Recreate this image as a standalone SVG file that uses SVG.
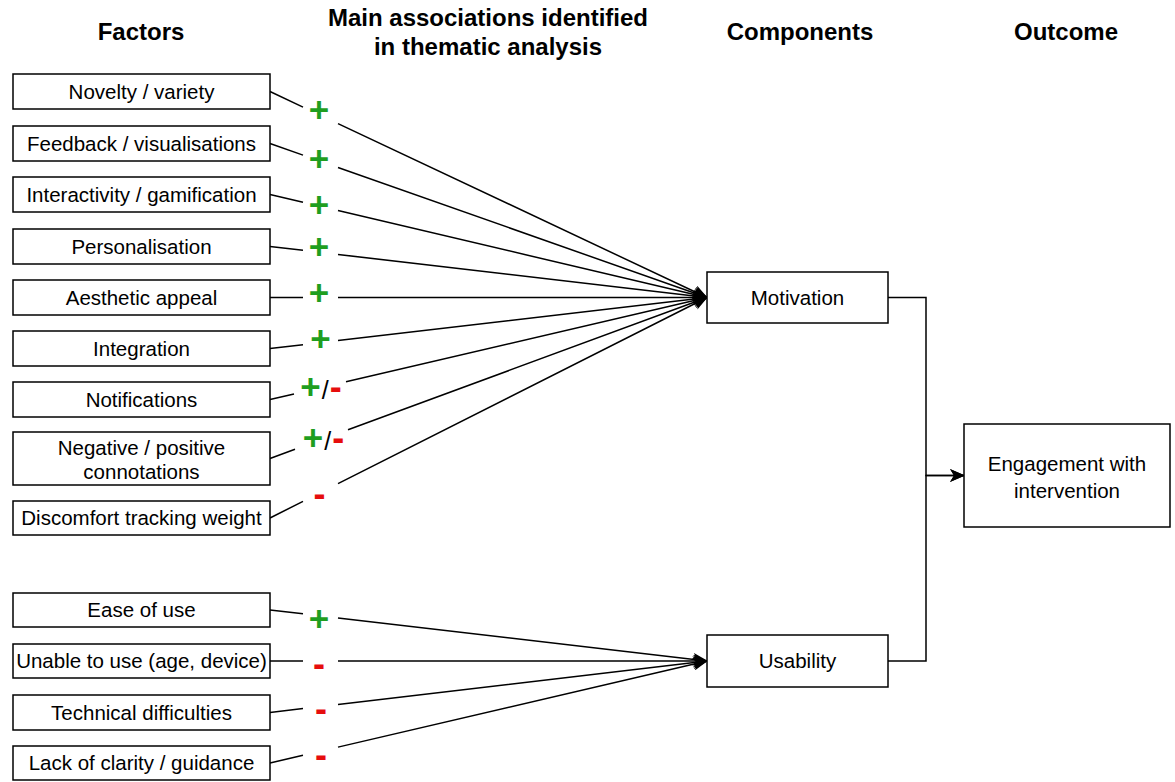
<svg xmlns="http://www.w3.org/2000/svg" width="1175" height="782" viewBox="0 0 1175 782">
<defs>
<style>
text{font-family:"Liberation Sans",Arial,sans-serif;fill:#000}
.h{font-size:24px;font-weight:bold;text-anchor:middle}
.box rect{fill:#fff;stroke:#000;stroke-width:1.5}
.box text{font-size:20.5px;text-anchor:middle}
.c path{fill:none;stroke:#000;stroke-width:1.5}
.s{text-anchor:middle;font-weight:bold}
.p{fill:#1f9e1f;font-size:35px;font-weight:bold}
.m{fill:#e60d0d;font-size:36px;font-weight:bold}
.sl{font-size:25px;font-weight:normal;fill:#000}
</style>
<marker id="arr" viewBox="0 0 15 13" markerWidth="15" markerHeight="13" refX="14" refY="6.5" orient="auto" markerUnits="userSpaceOnUse">
<path d="M0,0 L15,6.5 L0,13 L4,6.5 z" fill="#000"/>
</marker>
</defs>
<rect width="1175" height="782" fill="#fff"/>

<g id="headers">
<text class="h" x="141" y="40">Factors</text>
<text class="h" x="488" y="26">Main associations identified</text>
<text class="h" x="488" y="55">in thematic analysis</text>
<text class="h" x="800" y="40">Components</text>
<text class="h" x="1066" y="40">Outcome</text>
</g>

<g id="connectors" class="c">
<path d="M270,91.5 L303,107.06 M338,123.56 L707,297.5" marker-end="url(#arr)"/>
<path d="M270,143.5 L303,155.13 M338,167.46 L707,297.5" marker-end="url(#arr)"/>
<path d="M270,194.5 L303,202.28 M338,210.53 L707,297.5" marker-end="url(#arr)"/>
<path d="M270,246.5 L303,250.35 M338,254.44 L707,297.5" marker-end="url(#arr)"/>
<path d="M270,297.5 L303,297.5 M338,297.5 L707,297.5" marker-end="url(#arr)"/>
<path d="M270,348.5 L303,344.65 M338,340.56 L707,297.5" marker-end="url(#arr)"/>
<path d="M270,399.5 L294,393.9 M346,381.76 L707,297.5" marker-end="url(#arr)"/>
<path d="M270,458.5 L295,449.29 M348,429.76 L707,297.5" marker-end="url(#arr)"/>
<path d="M270,518 L303,501.35 M338,483.69 L707,297.5" marker-end="url(#arr)"/>
<path d="M270,610 L303,613.85 M338,617.94 L707,661" marker-end="url(#arr)"/>
<path d="M270,661 L303,661 M338,661 L707,661" marker-end="url(#arr)"/>
<path d="M270,712.5 L303,708.61 M338,704.49 L707,661" marker-end="url(#arr)"/>
<path d="M270,763 L303,755.3 M338,747.13 L707,661" marker-end="url(#arr)"/>
<path d="M888,297.5 H926 V475.5 H964" marker-end="url(#arr)"/>
<path d="M888,661 H926 V475.5 H964" marker-end="url(#arr)"/>
</g>

<g id="signs">
<text class="s p" x="319" y="122.4">+</text>
<text class="s p" x="319" y="170.7">+</text>
<text class="s p" x="319" y="216.7">+</text>
<text class="s p" x="319" y="259">+</text>
<text class="s p" x="319" y="304.7">+</text>
<text class="s p" x="320.5" y="351">+</text>
<text class="s" x="321" y="398.5"><tspan class="p">+</tspan><tspan class="sl" dx="1">/</tspan><tspan class="m" dx="1">-</tspan></text>
<text class="s" x="323.5" y="450"><tspan class="p">+</tspan><tspan class="sl" dx="1">/</tspan><tspan class="m" dx="1">-</tspan></text>
<text class="s m" x="319.5" y="506">-</text>
<text class="s p" x="319" y="631">+</text>
<text class="s m" x="319" y="676.3">-</text>
<text class="s m" x="321" y="721">-</text>
<text class="s m" x="321" y="767.3">-</text>
</g>

<g id="n1" class="box"><rect x="13" y="74" width="257" height="35"/><text x="141.5" y="98.7">Novelty / variety</text></g>
<g id="n2" class="box"><rect x="13" y="126" width="257" height="35"/><text x="141.5" y="150.7">Feedback / visualisations</text></g>
<g id="n3" class="box"><rect x="13" y="177" width="257" height="35"/><text x="141.5" y="201.7">Interactivity / gamification</text></g>
<g id="n4" class="box"><rect x="13" y="229" width="257" height="35"/><text x="141.5" y="253.7">Personalisation</text></g>
<g id="n5" class="box"><rect x="13" y="280" width="257" height="35"/><text x="141.5" y="304.7">Aesthetic appeal</text></g>
<g id="n6" class="box"><rect x="13" y="331" width="257" height="35"/><text x="141.5" y="355.7">Integration</text></g>
<g id="n7" class="box"><rect x="13" y="382" width="257" height="35"/><text x="141.5" y="406.7">Notifications</text></g>
<g id="n8" class="box"><rect x="13" y="432" width="257" height="53"/><text x="141.5" y="454.5">Negative / positive</text><text x="141.5" y="479">connotations</text></g>
<g id="n9" class="box"><rect x="13" y="501" width="257" height="34"/><text x="141.5" y="525.2">Discomfort tracking weight</text></g>
<g id="n10" class="box"><rect x="13" y="593" width="257" height="34"/><text x="141.5" y="617.2">Ease of use</text></g>
<g id="n11" class="box"><rect x="13" y="644" width="257" height="34"/><text x="141.5" y="668.2">Unable to use (age, device)</text></g>
<g id="n12" class="box"><rect x="13" y="695" width="257" height="35"/><text x="141.5" y="719.7">Technical difficulties</text></g>
<g id="n13" class="box"><rect x="13" y="746" width="257" height="34"/><text x="141.5" y="770.2">Lack of clarity / guidance</text></g>

<g id="motivation" class="box"><rect x="707" y="272" width="181" height="51"/><text x="797.5" y="304.7">Motivation</text></g>
<g id="usability" class="box"><rect x="707" y="635" width="181" height="52"/><text x="797.5" y="668.2">Usability</text></g>
<g id="engagement" class="box"><rect x="964" y="424" width="206" height="103"/><text x="1067" y="471">Engagement with</text><text x="1067" y="497.5">intervention</text></g>
</svg>
